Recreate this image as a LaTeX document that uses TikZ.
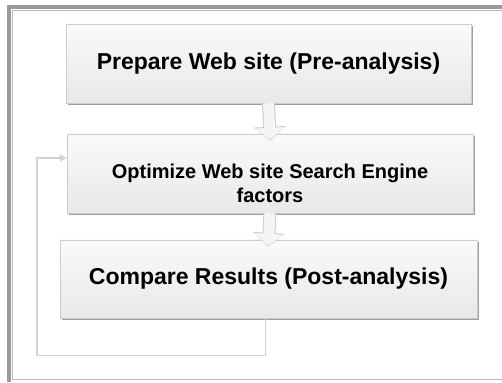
\documentclass[tikz,border=0pt]{standalone}
\usepackage{fontspec}
\setmainfont{Liberation Sans}
\usetikzlibrary{arrows.meta,positioning,calc,shadows}

\tikzset{
  stepbox/.style={draw=gray!40, top color=gray!4, bottom color=gray!18,
    inner sep=0pt, align=center, font=\bfseries\fontsize{23}{27}\selectfont,
    drop shadow={shadow xshift=2pt, shadow yshift=-2pt, fill=gray!75, opacity=1}},
  arrowedge/.style={line width=13pt, gray!40, shorten >=-7pt,
    -{Triangle[length=14pt,width=31pt]}},
  arrowbody/.style={line width=11pt, gray!8, shorten >=-6pt,
    -{Triangle[length=12pt,width=28pt]}},
  loopline/.style={draw=gray!35, line width=1.4pt}
}

\begin{document}
\begin{tikzpicture}[x=1pt,y=1pt]
\useasboundingbox (0,0) rectangle (502,382);
% frame
\draw [gray!80, line width=4pt] (9,0) -- (9,375) -- (502,375);
\draw [gray!55, line width=1.2pt] (502,371.5) -- (12.5,371.5) -- (12.5,2.5) -- (502,2.5);

% steps
\node [stepbox, minimum width=405pt, minimum height=79pt] (prep) at (268.5,318.5)
  {Prepare Web site (Pre-analysis)};
\node [stepbox, minimum width=406pt, minimum height=79pt,
  font=\bfseries\fontsize{20}{24}\selectfont] (optim) at (270,208.5)
  {\rule{0pt}{34pt}Optimize Web site Search Engine\\factors};
\node [stepbox, minimum width=417pt, minimum height=78pt] (compare) at (268.5,103)
  {Compare Results (Post-analysis)};

% block arrows
\draw [arrowedge] (prep.south) -- (optim.north);
\draw [arrowbody] (prep.south) -- (optim.north);
\draw [arrowedge] (optim.south) -- (compare.north);
\draw [arrowbody] (optim.south) -- (compare.north);

% feedback
\draw [loopline, -{Triangle[length=7pt,width=7pt]}] ($(compare.south)+(-3,0)$) -- ++(0,-37)
  -| ($(optim.west)+(-30,15.5)$) -- ($(optim.west)+(0,15.5)$);
\end{tikzpicture}
\end{document}
